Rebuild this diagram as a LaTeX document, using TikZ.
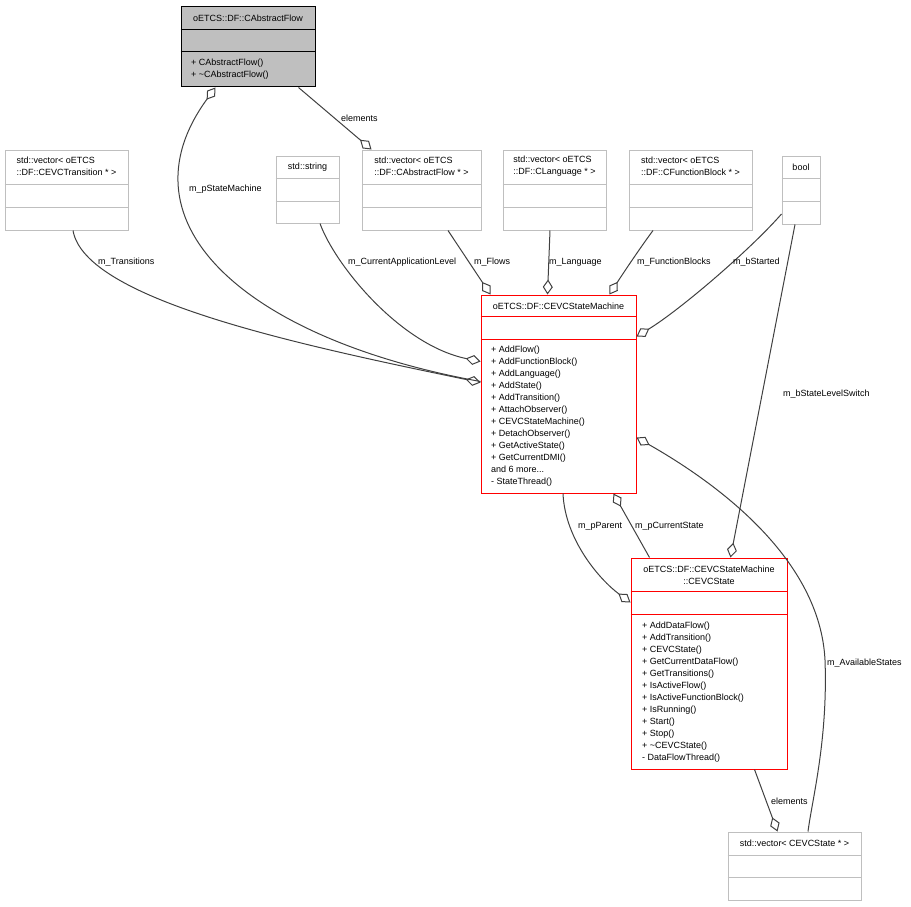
\documentclass[tikz,border=0pt]{standalone}
\usepackage{fontspec}
\setmainfont{Liberation Sans}
\usetikzlibrary{arrows.meta}
\tikzset{
  cls/.style={draw=gray!50, line width=1pt, inner sep=0pt},
  hot/.style={cls, draw=red},
  base/.style={cls, draw=black, fill=gray!50},
  txt/.style={inner sep=0pt, font=\fontsize{9}{12}\selectfont},
  lbl/.style={txt, anchor=west},
  agg/.style={draw=black!75, line width=1pt, {Diamond[open,length=15pt,width=10pt]}-},
}
\begin{document}
\begin{tikzpicture}[x=1pt, y=-1pt]
  \useasboundingbox (0,0) rectangle (911,907);
  % class frames
  \node[base, minimum width=134pt, minimum height=80pt] (absflow) at (248,47) {};
  \node[cls, minimum width=123pt, minimum height=80pt] (vtrans) at (66.5,190) {};
  \node[cls, minimum width=63pt, minimum height=67pt] (vstring) at (307.5,189.5) {};
  \node[cls, minimum width=119pt, minimum height=80pt] (vflow) at (421.5,190) {};
  \node[cls, minimum width=103pt, minimum height=80pt] (vlang) at (554.5,190) {};
  \node[cls, minimum width=123pt, minimum height=80pt] (vfb) at (690.5,190) {};
  \node[cls, minimum width=38pt, minimum height=68pt] (vbool) at (801,190) {};
  \node[hot, minimum width=155pt, minimum height=198pt] (machine) at (558.5,394) {};
  \node[hot, minimum width=156pt, minimum height=211pt] (state) at (709,663.5) {};
  \node[cls, minimum width=133pt, minimum height=68pt] (vstate) at (794.5,866) {};
  \foreach \n/\a/\b/\c in {absflow/23/45/black, vtrans/35/58/gray!50,
      vstring/23/46/gray!50, vflow/35/58/gray!50, vlang/35/58/gray!50,
      vfb/35/58/gray!50, vbool/23/46/gray!50, machine/22/45/red,
      state/34/57/red, vstate/24/46/gray!50}
  {
    \draw[\c, line width=1pt] ([yshift=-\a pt]\n.north west) -- ([yshift=-\a pt]\n.north east);
    \draw[\c, line width=1pt] ([yshift=-\b pt]\n.north west) -- ([yshift=-\b pt]\n.north east);
  }
  % class texts
  \node[txt] (absflow-t) at (248,18.5) {oETCS::DF::CAbstractFlow};
  \node[txt, anchor=west, align=left] (absflow-m) at (191,69)
    {+ CAbstractFlow()\\+ \textasciitilde CAbstractFlow()};
  \node[txt, align=left] (vtrans-t) at (66.5,166) {std::vector< oETCS\\::DF::CEVCTransition * >};
  \node[txt] (vstring-t) at (307.5,167.5) {std::string};
  \node[txt, align=left] (vflow-t) at (421.5,166) {std::vector< oETCS\\::DF::CAbstractFlow * >};
  \node[txt, align=left] (vlang-t) at (554.5,166) {std::vector< oETCS\\::DF::CLanguage * >};
  \node[txt, align=left] (vfb-t) at (690.5,166) {std::vector< oETCS\\::DF::CFunctionBlock * >};
  \node[txt] (vbool-t) at (801,167.5) {bool};
  \node[txt] (machine-t) at (558.5,306) {oETCS::DF::CEVCStateMachine};
  \node[txt, anchor=west, align=left] (machine-m) at (491,416.5)
    {+ AddFlow()\\+ AddFunctionBlock()\\+ AddLanguage()\\+ AddState()\\+ AddTransition()\\
     + AttachObserver()\\+ CEVCStateMachine()\\+ DetachObserver()\\+ GetActiveState()\\
     + GetCurrentDMI()\\and 6 more...\\- StateThread()};
  \node[txt, align=center] (state-t) at (709,575) {oETCS::DF::CEVCStateMachine\\::CEVCState};
  \node[txt, anchor=west, align=left] (state-m) at (642,692)
    {+ AddDataFlow()\\+ AddTransition()\\+ CEVCState()\\+ GetCurrentDataFlow()\\
     + GetTransitions()\\+ IsActiveFlow()\\+ IsActiveFunctionBlock()\\+ IsRunning()\\
     + Start()\\+ Stop()\\+ \textasciitilde CEVCState()\\- DataFlowThread()};
  \node[txt] (vstate-t) at (794.5,843.5) {std::vector< CEVCState * >};
  % aggregations
  \draw[agg] ([xshift=10pt]vflow.north west) -- ([xshift=-17pt]absflow.south east);
  \draw[agg] ([xshift=35pt]absflow.south west) .. controls (115,225) and (250,340) .. ([yshift=-87pt]machine.north west);
  \draw[agg] ([yshift=-88pt]machine.north west) .. controls (300,345) and (85,300) .. ([xshift=6.5pt]vtrans.south);
  \draw[agg] ([yshift=-67pt]machine.north west) .. controls (400,345) and (335,265) .. ([xshift=12.5pt]vstring.south);
  \draw[agg] ([xshift=10pt]machine.north west) -- ([xshift=26.5pt]vflow.south);
  \draw[agg] ([xshift=67pt]machine.north west) -- ([xshift=-4.5pt]vlang.south);
  \draw[agg] ([xshift=129pt]machine.north west) .. controls (622,275) and (640,248) .. ([xshift=-37.5pt]vfb.south);
  \draw[agg] ([yshift=-42pt]machine.north east) .. controls (680,310) and (750,250) .. ([yshift=-24pt]vbool.west);
  \draw[agg] ([xshift=100pt]state.north west) -- ([xshift=-6pt]vbool.south);
  \draw[agg] ([yshift=-45pt]state.north west) .. controls (600,580) and (565,540) .. ([xshift=4.5pt]machine.south);
  \draw[agg] ([xshift=133pt]machine.south west) -- ([xshift=19pt]state.north west);
  \draw[agg] ([yshift=-143pt]machine.north east) .. controls (720,485) and (820,560) .. (825,660)
    .. controls (828,740) and (812,800) .. ([xshift=13.5pt]vstate.north);
  \draw[agg] ([xshift=50pt]vstate.north west) -- ([xshift=-33pt]state.south east);
  % member names
  \node[lbl] (l-elem) at (341,118) {elements};
  \node[lbl] (l-psm) at (189,189) {m\_pStateMachine};
  \node[lbl] (l-trans) at (98,262) {m\_Transitions};
  \node[lbl] (l-level) at (348,262) {m\_CurrentApplicationLevel};
  \node[lbl] (l-flows) at (474,262) {m\_Flows};
  \node[lbl] (l-lang) at (549,262) {m\_Language};
  \node[lbl] (l-fb) at (637,262) {m\_FunctionBlocks};
  \node[lbl] (l-start) at (733,262) {m\_bStarted};
  \node[lbl] (l-switch) at (783,394) {m\_bStateLevelSwitch};
  \node[lbl] (l-parent) at (578,526) {m\_pParent};
  \node[lbl] (l-cur) at (635,526) {m\_pCurrentState};
  \node[lbl] (l-avail) at (827,663) {m\_AvailableStates};
  \node[lbl] (l-elems) at (771,801) {elements};
\end{tikzpicture}
\end{document}
